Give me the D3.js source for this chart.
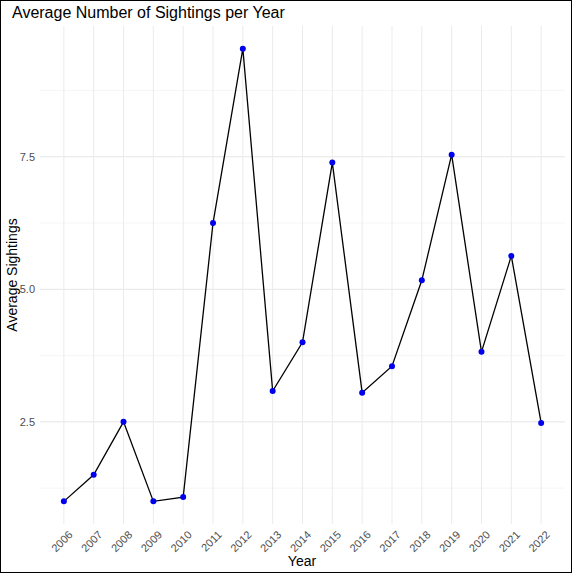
<!DOCTYPE html><html><head><script src="https://cdn.jsdelivr.net/npm/d3@7"></script>
<style>body{margin:0}</style></head><body><svg width="572" height="573"></svg><script>
const years=[2006,2007,2008,2009,2010,2011,2012,2013,2014,2015,2016,2017,2018,2019,2020,2021,2022];
const values=[1.0,1.5,2.5,1.0,1.08,6.25,9.54,3.08,4.0,7.39,3.05,3.55,5.17,7.54,3.82,5.63,2.48];
const yTicks=[2.5,5.0,7.5];
const svg=d3.select("svg");
svg.append("rect").attr("x",0.5).attr("y",0.5).attr("width",571).attr("height",572).attr("fill","#fff").attr("stroke","#000");
const x=d3.scaleLinear().domain([2005.2,2022.8]).range([40,565]);
const y=d3.scaleLinear().domain([0.573,9.967]).range([524,26]);
const g=svg.append("g");
[1.25,3.75,6.25,8.75].forEach(v=>g.append("line").attr("x1",40).attr("x2",565).attr("y1",y(v)).attr("y2",y(v)).attr("stroke","#f0f0f0").attr("stroke-width",0.6));
yTicks.forEach(v=>g.append("line").attr("x1",40).attr("x2",565).attr("y1",y(v)).attr("y2",y(v)).attr("stroke","#e6e6e6").attr("stroke-width",1));
years.forEach(v=>g.append("line").attr("y1",26).attr("y2",524).attr("x1",x(v)).attr("x2",x(v)).attr("stroke","#ebebeb").attr("stroke-width",1));
yTicks.forEach(v=>svg.append("text").attr("x",35).attr("y",y(v)+4).attr("text-anchor","end").attr("font-family","Liberation Sans, Arial").attr("font-size",11).attr("fill","#4d4d4d").text(v.toFixed(1)));
years.forEach(v=>svg.append("text").attr("transform",`translate(${x(v)+4},${530}) rotate(-45)`).attr("text-anchor","end").attr("dy","0.7em").attr("font-family","Liberation Sans, Arial").attr("font-size",11).attr("fill","#4d4d4d").text(v));
const line=d3.line().x((d,i)=>x(years[i])).y(d=>y(d));
svg.append("path").attr("d",line(values)).attr("fill","none").attr("stroke","#000").attr("stroke-width",1.3);
svg.selectAll("circle").data(values).join("circle").attr("cx",(d,i)=>x(years[i])).attr("cy",d=>y(d)).attr("r",3).attr("fill","#0000ee");
svg.append("text").attr("x",12).attr("y",18).attr("font-family","Liberation Sans, Arial").attr("font-size",16).text("Average Number of Sightings per Year");
svg.append("text").attr("x",302).attr("y",566).attr("text-anchor","middle").attr("font-family","Liberation Sans, Arial").attr("font-size",14).text("Year");
svg.append("text").attr("transform","translate(17,275) rotate(-90)").attr("text-anchor","middle").attr("font-family","Liberation Sans, Arial").attr("font-size",14).text("Average Sightings");
</script></body></html>
